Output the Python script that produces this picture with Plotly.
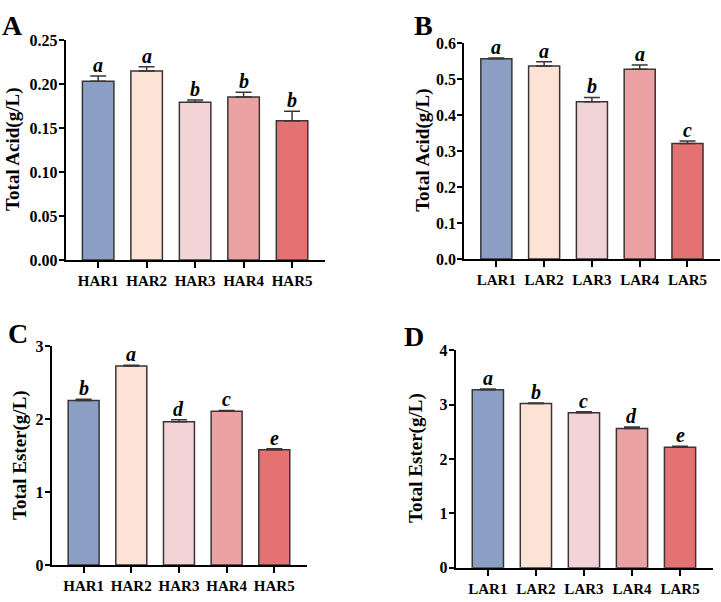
import plotly.graph_objects as go

har_cats = ["HAR1", "HAR2", "HAR3", "HAR4", "HAR5"]
lar_cats = ["LAR1", "LAR2", "LAR3", "LAR4", "LAR5"]

acid_har = [0.2035, 0.215, 0.1795, 0.1855, 0.1585]
acid_har_err = [0.006, 0.005, 0.0026, 0.0055, 0.0107]
acid_har_sig = ["a", "a", "b", "b", "b"]

acid_lar = [0.556, 0.536, 0.437, 0.527, 0.321]
acid_lar_err = [0.002, 0.012, 0.0117, 0.0117, 0.007]
acid_lar_sig = ["a", "a", "b", "a", "c"]

ester_har = [2.257, 2.733, 1.968, 2.111, 1.582]
ester_har_err = [0.02, 0.01, 0.025, 0.012, 0.015]
ester_har_sig = ["b", "a", "d", "c", "e"]

ester_lar = [3.273, 3.023, 2.85, 2.563, 2.218]
ester_lar_err = [0.015, 0.01, 0.02, 0.025, 0.015]
ester_lar_sig = ["a", "b", "c", "d", "e"]

colors = ["#8A9FC3", "#FDE2D6", "#F2D4D6", "#EBA2A3", "#E47273"]
FONT = "Liberation Serif, Times New Roman, serif"
W, H = 721, 602

panels = [
    dict(cats=har_cats, vals=acid_har, err=acid_har_err, sig=acid_har_sig,
         xdom=[0.0911, 0.4508], ydom=[0.5693, 0.9447], yrange=[0, 0.25],
         dtick=0.05, fmt=".2f", title="Total Acid(g/L)", label="A",
         lx=0.0, ly=1.0, tx=13, ty=146),
    dict(cats=lar_cats, vals=acid_lar, err=acid_lar_err, sig=acid_lar_sig,
         xdom=[0.644, 0.9986], ydom=[0.5709, 0.9402], yrange=[0, 0.6],
         dtick=0.1, fmt=".1f", title="Total Acid(g/L)", label="B",
         lx=0.571, ly=1.0, tx=423, ty=147),
    dict(cats=har_cats, vals=ester_har, err=ester_har_err, sig=ester_har_sig,
         xdom=[0.0717, 0.4254], ydom=[0.0477, 0.4214], yrange=[0, 3],
         dtick=1, fmt="d", title="Total Ester(g/L)", label="C",
         lx=0.008, ly=0.473, tx=20, ty=460),
    dict(cats=lar_cats, vals=ester_lar, err=ester_lar_err, sig=ester_lar_sig,
         xdom=[0.632, 0.9885], ydom=[0.0432, 0.4148], yrange=[0, 4],
         dtick=1, fmt="d", title="Total Ester(g/L)", label="D",
         lx=0.557, ly=0.468, tx=416, ty=463),
]

fig = go.Figure()
layout = dict(
    width=W, height=H, margin=dict(l=0, r=0, t=0, b=0),
    paper_bgcolor="white", plot_bgcolor="white", showlegend=False,
)
annotations = []
for i, p in enumerate(panels):
    n = "" if i == 0 else str(i + 1)
    xa, ya = "x" + n, "y" + n
    fig.add_trace(go.Bar(
        x=p["cats"], y=p["vals"], xaxis=xa, yaxis=ya, width=0.65,
        marker=dict(color=colors, line=dict(color="#3a3535", width=1.5)),
        error_y=dict(type="data", symmetric=False, array=p["err"],
                     arrayminus=[0] * 5, color="#3a3535", thickness=1.5,
                     width=8),
    ))
    layout["xaxis" + n] = dict(
        domain=p["xdom"], anchor=ya, range=[-0.67, 4.68],
        showline=True, linecolor="black", linewidth=2,
        ticks="outside", ticklen=6, tickwidth=2, tickcolor="black",
        showgrid=False, zeroline=False,
        tickfont=dict(family=FONT, size=15, color="black", weight="bold"),
    )
    layout["yaxis" + n] = dict(
        domain=p["ydom"], anchor=xa, range=p["yrange"], dtick=p["dtick"],
        tickformat=p["fmt"],
        showline=True, linecolor="black", linewidth=2,
        ticks="outside", ticklen=5, tickwidth=2, tickcolor="black",
        ticklabelstandoff=-2,
        showgrid=False, zeroline=False,
        tickfont=dict(family=FONT, size=16, color="black", weight="bold"),
    )
    for c, v, e, s in zip(p["cats"], p["vals"], p["err"], p["sig"]):
        annotations.append(dict(
            x=c, y=v + e, xref=xa, yref=ya, text="<b><i>" + s + "</i></b>",
            showarrow=False, yanchor="bottom", yshift=-2,
            font=dict(family=FONT, size=20, color="black"),
        ))
    annotations.append(dict(
        x=p["lx"], y=p["ly"], xref="paper", yref="paper", text="<b>" + p["label"] + "</b>",
        showarrow=False, xanchor="left", yanchor="top",
        font=dict(family=FONT, size=28, color="black"),
    ))
    annotations.append(dict(
        x=p["tx"] / W, y=1 - p["ty"] / H, xref="paper", yref="paper",
        text="<b>" + p["title"] + "</b>", textangle=-90, showarrow=False,
        xanchor="center", yanchor="middle",
        font=dict(family=FONT, size=19, color="black"),
    ))
layout["annotations"] = annotations
fig.update_layout(**layout)
fig.write_html("out.html")
